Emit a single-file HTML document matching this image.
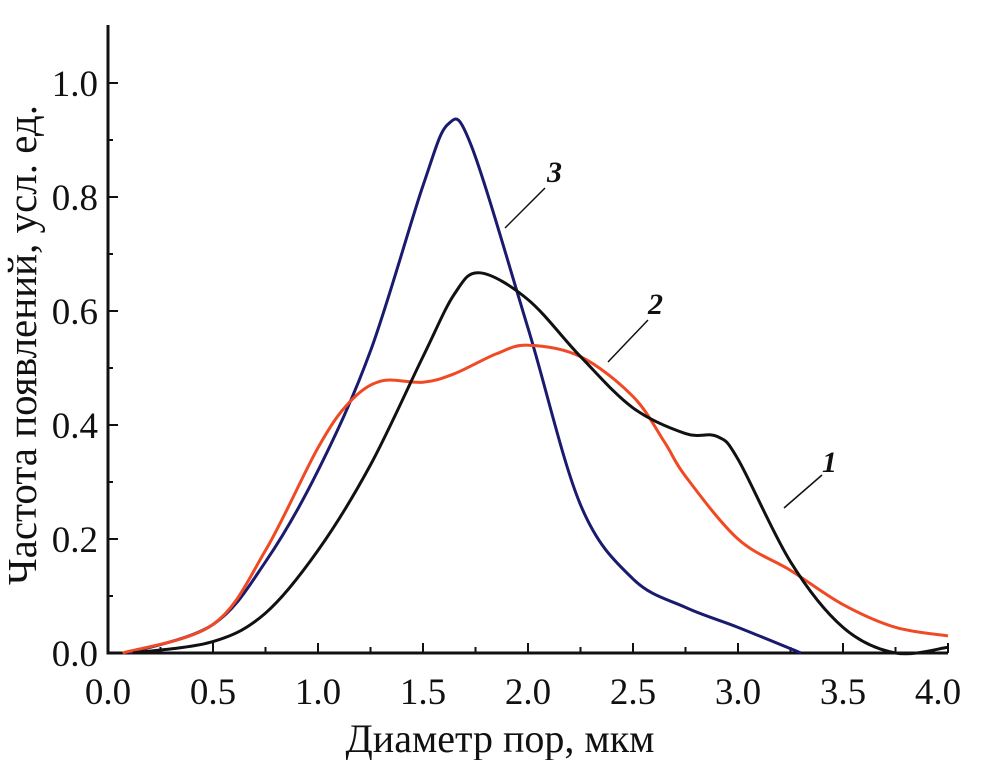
<!DOCTYPE html>
<html><head><meta charset="utf-8"><style>
body{margin:0;background:#fff}
svg{display:block;font-family:"Liberation Serif",serif}
</style></head><body>
<svg id="chart" width="1004" height="760"></svg>
<script>
const xTicks=[0,0.5,1,1.5,2,2.5,3,3.5,4];
const yTicks=[0,0.2,0.4,0.6,0.8,1.0];
const s1x=[0.12,0.5,0.75,1.0,1.25,1.5,1.65,1.77,2.0,2.25,2.5,2.75,2.9,3.0,3.25,3.5,3.75,4.0];
const s1y=[0,0.02,0.07,0.18,0.33,0.52,0.63,0.667,0.62,0.52,0.43,0.385,0.38,0.34,0.16,0.045,0.0,0.01];
const s2x=[0.07,0.5,0.75,1.0,1.15,1.3,1.5,1.65,1.85,2.0,2.25,2.5,2.65,2.75,3.0,3.25,3.5,3.75,4.0];
const s2y=[0,0.05,0.18,0.36,0.44,0.477,0.475,0.49,0.525,0.54,0.52,0.45,0.37,0.31,0.2,0.145,0.085,0.045,0.03];
const s3x=[0.1,0.5,0.75,1.0,1.25,1.5,1.62,1.73,2.0,2.25,2.5,2.75,3.0,3.3];
const s3y=[0,0.05,0.16,0.32,0.53,0.82,0.928,0.89,0.57,0.26,0.13,0.08,0.045,0];
const X0=108,XS=210,Y0=653,YS=570;
const sx=v=>X0+v*XS, sy=v=>Y0-v*YS;
const NS="http://www.w3.org/2000/svg";
const svg=document.getElementById('chart');
function mk(t,a,p){const e=document.createElementNS(NS,t);for(const k in a)e.setAttribute(k,a[k]);(p||svg).appendChild(e);return e;}
let ax=mk('path',{d:`M${sx(0)},25 V${Y0} H${sx(4)}`,fill:'none',stroke:'#111',"stroke-width":3});


for(let i=1;i<=8;i++){const v=i*0.5;mk('line',{x1:sx(v),x2:sx(v),y1:Y0,y2:Y0-10,stroke:'#111',"stroke-width":2});}
for(let i=0;i<8;i++){const v=i*0.5+0.25;mk('line',{x1:sx(v),x2:sx(v),y1:Y0,y2:Y0-6,stroke:'#111',"stroke-width":2});}
for(let i=1;i<=10;i++){const v=i*0.1;mk('line',{x1:X0,x2:X0+(i%2?5:10),y1:sy(v),y2:sy(v),stroke:'#111',"stroke-width":2});}
xTicks.forEach(v=>{const t=mk('text',{x:sx(v)+(v===4?-10:0),y:704,"text-anchor":"middle","font-size":37,fill:'#111'});t.textContent=v.toFixed(1);

});
yTicks.forEach(v=>{const t=mk('text',{x:98,y:sy(v)+13,"text-anchor":"end","font-size":37,fill:'#111'});t.textContent=v.toFixed(1);

});
let xl=mk('text',{x:500,y:752,"text-anchor":"middle","font-size":40,fill:'#111'});xl.textContent='Диаметр пор, мкм';


let yl=mk('text',{x:0,y:0,transform:'translate(36,345) rotate(-90)',"text-anchor":"middle","font-size":41,fill:'#111'});yl.textContent='Частота появлений, усл. ед.';


function curve(xs,ys){const p=xs.map((x,i)=>[sx(x),sy(ys[i])]);let d=`M${p[0][0]},${p[0][1]}`;
for(let i=0;i<p.length-1;i++){const a=p[i-1]||p[i],b=p[i],c=p[i+1],e=p[i+2]||c;
d+=` C${b[0]+(c[0]-a[0])/6},${b[1]+(c[1]-a[1])/6} ${c[0]-(e[0]-b[0])/6},${c[1]-(e[1]-b[1])/6} ${c[0]},${c[1]}`;}return d;}
let c3=mk('path',{d:curve(s3x,s3y),fill:'none',stroke:'#1a1a6e',"stroke-width":3});


let c2=mk('path',{d:curve(s2x,s2y),fill:'none',stroke:'#f04a25',"stroke-width":3});


let c1=mk('path',{d:curve(s1x,s1y),fill:'none',stroke:'#111',"stroke-width":3});


[[505,228,545,188,547,182,'3'],[608,362,648,320,648,314,'2'],[784,508,822,475,822,472,'1']].forEach(a=>{
mk('line',{x1:a[0],y1:a[1],x2:a[2],y2:a[3],stroke:'#111',"stroke-width":1.5});
const t=mk('text',{x:a[4],y:a[5],"font-size":30,"font-style":"italic","font-weight":"bold",fill:'#111'});t.textContent=a[6];

});
</script>
</body></html>
